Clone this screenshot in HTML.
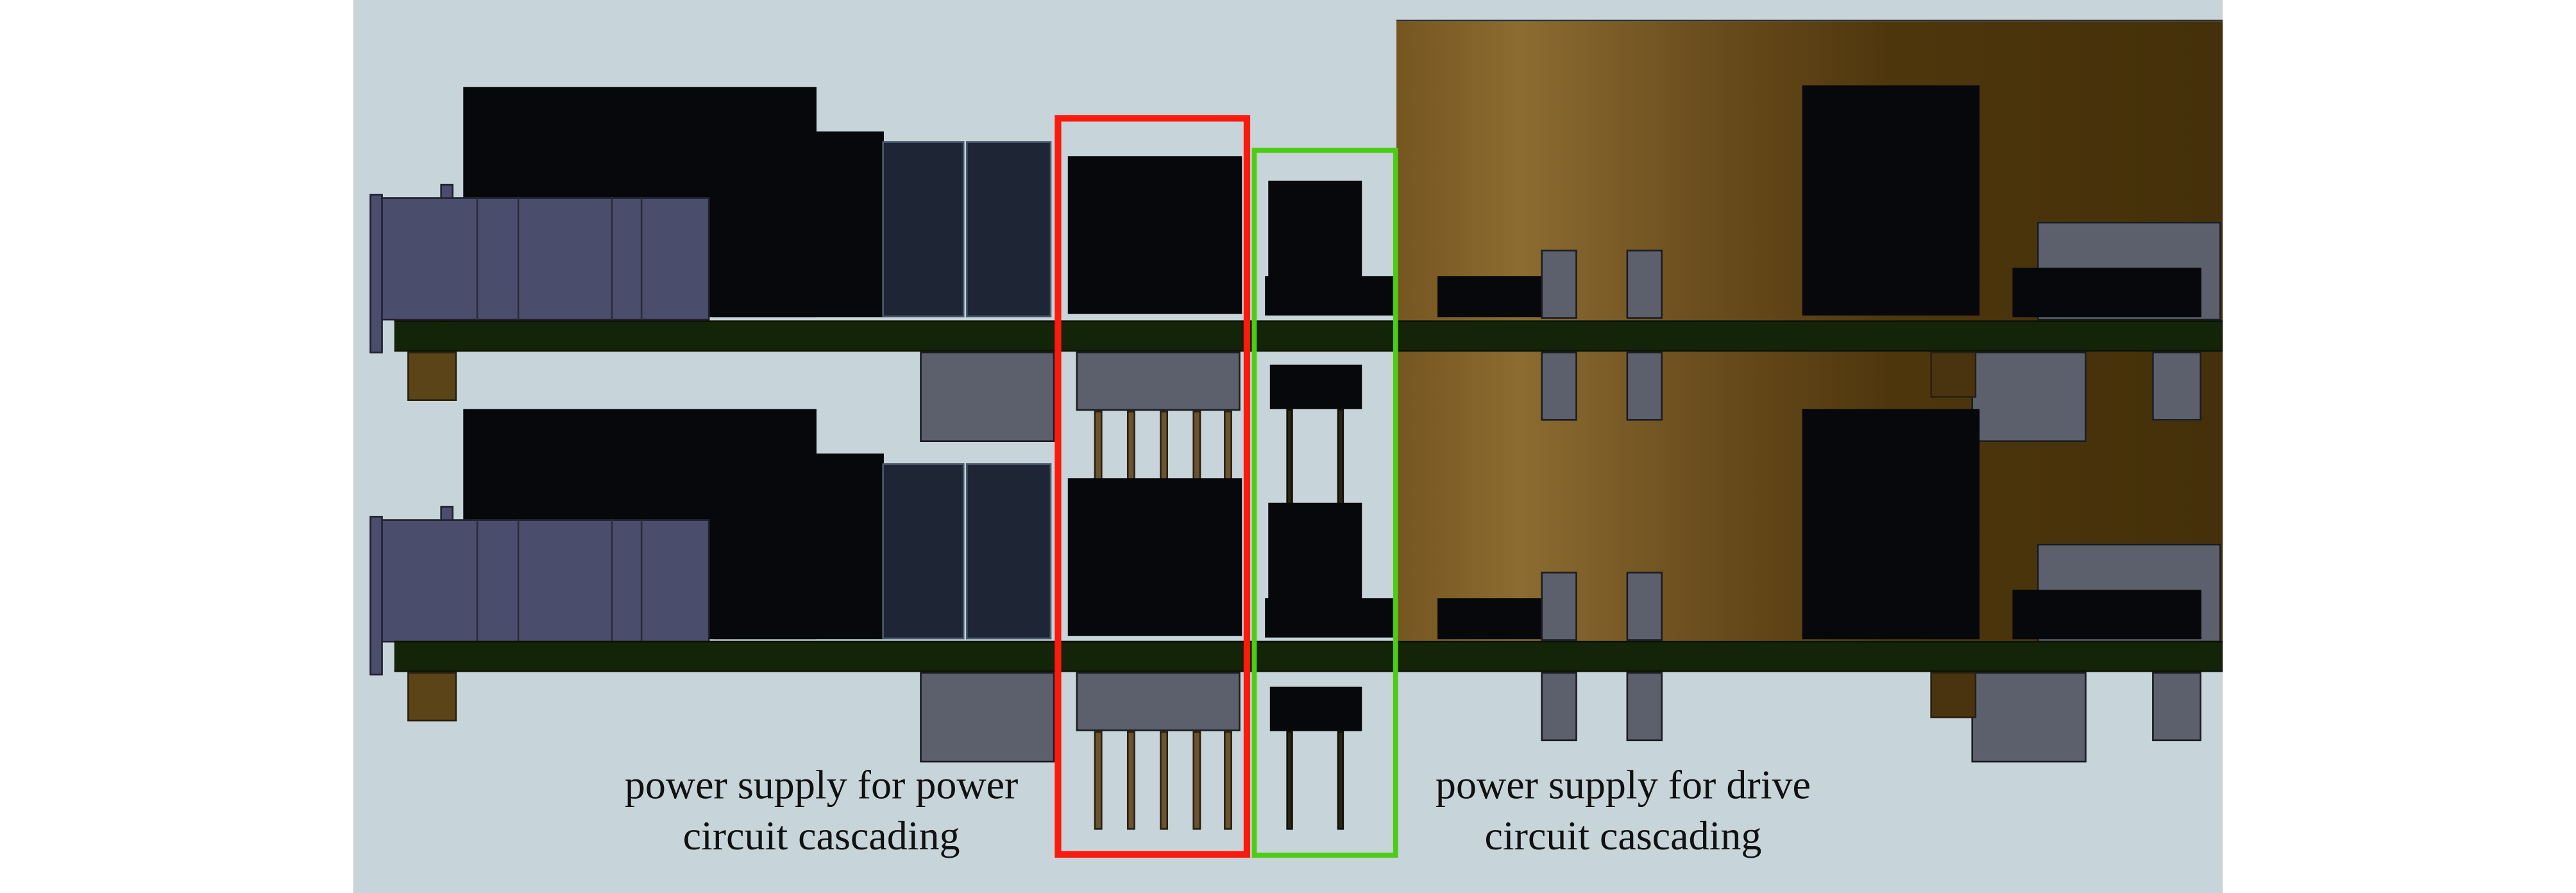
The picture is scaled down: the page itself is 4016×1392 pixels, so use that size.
<!DOCTYPE html>
<html><head><style>
html,body{margin:0;padding:0;background:#fff;}
#w{position:relative;width:4016px;height:1392px;overflow:hidden;background:#fff;}
#s{position:absolute;left:0;top:0;width:1568px;height:543.5px;transform:scale(2.5612);transform-origin:0 0;}
#s div{position:absolute;box-sizing:border-box;}
.k{background:#07080b;}
.g{background:#5c606c;border:0.4px solid #1a1c22;}
.hs{background:#4b4d6c;border:0.4px solid #20222e;}
.fin{background:#2a2c3c;width:0.8px;}
.cap{background:#1e2636;border:0.5px solid #4a5a70;}
.pcb{background:#142409;border-top:0.5px solid #0a1405;border-bottom:0.5px solid #0a1405;}
.pb{background:#6a5430;border:0.3px solid #2a2010;}
.pd{background:#2a2414;border:0.3px solid #101008;}
.t{font-family:"Liberation Serif",serif;font-size:25px;color:#111;white-space:nowrap;text-align:center;line-height:31px;}
</style></head><body><div id="w"><div id="s">
<div style="left:215px;top:0;width:1138px;height:543.5px;background:#c7d4d9;"></div>
<div style="left:850px;top:12px;width:503px;height:378px;background:linear-gradient(90deg,#765620 0%,#8c6c30 15%,#6e5020 35%,#4e360c 60%,#44300a 100%);border-top:0.6px solid #333;"></div>

<!-- top row -->
<div class="k" style="left:282px;top:53px;width:215px;height:140px;"></div>
<div class="hs" style="left:225px;top:118px;width:8px;height:97px;"></div>
<div class="hs" style="left:268px;top:112px;width:8px;height:106px;"></div>
<div class="hs" style="left:232px;top:120px;width:200px;height:75px;"></div>
<div class="fin" style="left:290px;top:120px;height:75px;"></div>
<div class="fin" style="left:315px;top:120px;height:75px;"></div>
<div class="fin" style="left:372px;top:120px;height:75px;"></div>
<div class="fin" style="left:390px;top:120px;height:75px;"></div>
<div class="k" style="left:434px;top:80px;width:104px;height:113px;"></div>
<div class="cap" style="left:537px;top:86px;width:50px;height:107px;"></div>
<div class="cap" style="left:588px;top:86px;width:52px;height:107px;"></div>
<div class="k" style="left:650px;top:95px;width:106px;height:96px;"></div>
<div class="k" style="left:772px;top:110px;width:57px;height:80px;"></div>
<div class="k" style="left:770px;top:168px;width:78px;height:24px;"></div>
<div class="k" style="left:875px;top:168px;width:65px;height:25px;"></div>
<div class="g" style="left:938px;top:152px;width:22px;height:42px;"></div>
<div class="g" style="left:990px;top:152px;width:22px;height:42px;"></div>
<div class="k" style="left:1097px;top:52px;width:108px;height:140px;"></div>
<div class="g" style="left:1240px;top:135px;width:112px;height:60px;"></div>
<div class="k" style="left:1225px;top:163px;width:115px;height:30px;"></div>
<div class="pcb" style="left:240px;top:195px;width:1113px;height:19px;"></div>
<div class="pb" style="left:248px;top:214px;width:30px;height:30px;background:#5a4418;"></div>
<div class="g" style="left:560px;top:214px;width:82px;height:55px;"></div>
<div class="g" style="left:655px;top:214px;width:100px;height:36px;"></div>
<div class="pb" style="left:666px;top:250px;width:5px;height:60px;"></div>
<div class="pb" style="left:686px;top:250px;width:5px;height:60px;"></div>
<div class="pb" style="left:706px;top:250px;width:5px;height:60px;"></div>
<div class="pb" style="left:726px;top:250px;width:5px;height:60px;"></div>
<div class="pb" style="left:745px;top:250px;width:5px;height:60px;"></div>
<div class="k" style="left:773px;top:222px;width:56px;height:27px;"></div>
<div class="pd" style="left:783px;top:249px;width:4px;height:60px;"></div>
<div class="pd" style="left:814px;top:249px;width:4px;height:60px;"></div>
<div class="g" style="left:938px;top:214px;width:22px;height:42px;"></div>
<div class="g" style="left:990px;top:214px;width:22px;height:42px;"></div>
<div class="g" style="left:1200px;top:214px;width:70px;height:55px;"></div>
<div class="pb" style="left:1175px;top:214px;width:28px;height:28px;background:#4a3410;"></div>
<div class="g" style="left:1310px;top:214px;width:30px;height:42px;"></div>

<!-- bottom row -->
<div class="k" style="left:282px;top:249px;width:215px;height:140px;"></div>
<div class="hs" style="left:225px;top:314px;width:8px;height:97px;"></div>
<div class="hs" style="left:268px;top:308px;width:8px;height:106px;"></div>
<div class="hs" style="left:232px;top:316px;width:200px;height:75px;"></div>
<div class="fin" style="left:290px;top:316px;height:75px;"></div>
<div class="fin" style="left:315px;top:316px;height:75px;"></div>
<div class="fin" style="left:372px;top:316px;height:75px;"></div>
<div class="fin" style="left:390px;top:316px;height:75px;"></div>
<div class="k" style="left:434px;top:276px;width:104px;height:113px;"></div>
<div class="cap" style="left:537px;top:282px;width:50px;height:107px;"></div>
<div class="cap" style="left:588px;top:282px;width:52px;height:107px;"></div>
<div class="k" style="left:650px;top:291px;width:106px;height:96px;"></div>
<div class="k" style="left:772px;top:306px;width:57px;height:80px;"></div>
<div class="k" style="left:770px;top:364px;width:78px;height:24px;"></div>
<div class="k" style="left:875px;top:364px;width:65px;height:25px;"></div>
<div class="g" style="left:938px;top:348px;width:22px;height:42px;"></div>
<div class="g" style="left:990px;top:348px;width:22px;height:42px;"></div>
<div class="k" style="left:1097px;top:249px;width:108px;height:140px;"></div>
<div class="g" style="left:1240px;top:331px;width:112px;height:60px;"></div>
<div class="k" style="left:1225px;top:359px;width:115px;height:30px;"></div>
<div class="pcb" style="left:240px;top:390px;width:1113px;height:19px;"></div>
<div class="pb" style="left:248px;top:409px;width:30px;height:30px;background:#5a4418;"></div>
<div class="g" style="left:560px;top:409px;width:82px;height:55px;"></div>
<div class="g" style="left:655px;top:409px;width:100px;height:36px;"></div>
<div class="pb" style="left:666px;top:445px;width:5px;height:60px;"></div>
<div class="pb" style="left:686px;top:445px;width:5px;height:60px;"></div>
<div class="pb" style="left:706px;top:445px;width:5px;height:60px;"></div>
<div class="pb" style="left:726px;top:445px;width:5px;height:60px;"></div>
<div class="pb" style="left:745px;top:445px;width:5px;height:60px;"></div>
<div class="k" style="left:773px;top:418px;width:56px;height:27px;"></div>
<div class="pd" style="left:783px;top:445px;width:4px;height:60px;"></div>
<div class="pd" style="left:814px;top:445px;width:4px;height:60px;"></div>
<div class="g" style="left:938px;top:409px;width:22px;height:42px;"></div>
<div class="g" style="left:990px;top:409px;width:22px;height:42px;"></div>
<div class="g" style="left:1200px;top:409px;width:70px;height:55px;"></div>
<div class="pb" style="left:1175px;top:409px;width:28px;height:28px;background:#4a3410;"></div>
<div class="g" style="left:1310px;top:409px;width:30px;height:42px;"></div>

<div style="left:642px;top:70px;width:119px;height:452px;border:4px solid #fa1a0e;"></div>
<div style="left:762px;top:90px;width:89px;height:432px;border:3.5px solid #4ccc14;"></div>

<div class="t" style="left:360px;top:463px;width:280px;">power supply for power<br>circuit cascading</div>
<div class="t" style="left:848px;top:463px;width:280px;">power supply for drive<br>circuit cascading</div>
</div></div></body></html>
